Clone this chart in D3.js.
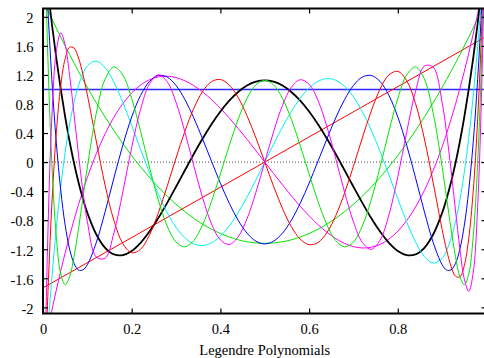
<!DOCTYPE html>
<html>
<head>
<meta charset="utf-8">
<script src="https://cdn.jsdelivr.net/npm/d3@7"></script>
<style>
  html, body { margin: 0; padding: 0; background: #fff; overflow: hidden; }
  svg { display: block; }
  text { font-family: "Liberation Serif", "Times New Roman", serif; font-size: 14.5px; fill: #000; }
</style>
</head>
<body>
<svg id="chart" width="490" height="358"></svg>
<script>
// sample positions on [0, 1], denser near both ends where the curves get steep
const xs = [0, 0.01, 0.02, 0.03, 0.04, 0.05, 0.06, 0.07, 0.08, 0.09, 0.10,
  0.12, 0.14, 0.16, 0.18, 0.20, 0.22, 0.24, 0.26, 0.28, 0.30, 0.32, 0.34, 0.36, 0.38, 0.40,
  0.42, 0.44, 0.46, 0.48, 0.50, 0.52, 0.54, 0.56, 0.58, 0.60, 0.62, 0.64, 0.66, 0.68, 0.70,
  0.72, 0.74, 0.76, 0.78, 0.80, 0.82, 0.84, 0.86, 0.88,
  0.90, 0.91, 0.92, 0.93, 0.94, 0.95, 0.96, 0.97, 0.98, 0.99, 1.00];

// degree 0 and 1 are straight, two points are enough
const xsLine = [0, 1];
const legendre0 = [1, 1];
const legendre1 = [-1.732, 1.732];

const legendre2 = [2.236, 2.103, 1.973, 1.846, 1.721, 1.599, 1.479, 1.363, 1.249, 1.137, 1.029,
  0.819, 0.621, 0.433, 0.256, 0.089, -0.066, -0.211, -0.345, -0.469, -0.581, -0.683, -0.775, -0.855, -0.925, -0.984,
  -1.032, -1.070, -1.097, -1.113, -1.118, -1.113, -1.097, -1.070, -1.032, -0.984, -0.925, -0.855, -0.775, -0.683, -0.581,
  -0.469, -0.345, -0.211, -0.066, 0.089, 0.256, 0.433, 0.621, 0.819,
  1.029, 1.137, 1.249, 1.363, 1.479, 1.599, 1.721, 1.846, 1.973, 2.103, 2.236];

const legendre3 = [-2.646, -2.336, -2.042, -1.763, -1.499, -1.250, -1.015, -0.794, -0.587, -0.393, -0.212,
  0.113, 0.389, 0.619, 0.806, 0.952, 1.061, 1.134, 1.173, 1.183, 1.164, 1.120, 1.053, 0.966, 0.861, 0.741,
  0.608, 0.465, 0.314, 0.158, 0, -0.158, -0.314, -0.465, -0.608, -0.741, -0.861, -0.966, -1.053, -1.120, -1.164,
  -1.183, -1.173, -1.134, -1.061, -0.952, -0.806, -0.619, -0.389, -0.113,
  0.212, 0.393, 0.587, 0.794, 1.015, 1.250, 1.499, 1.763, 2.042, 2.336, 2.646];

const legendre4 = [3, 2.427, 1.905, 1.432, 1.006, 0.624, 0.284, -0.016, -0.278, -0.505, -0.699,
  -0.994, -1.180, -1.271, -1.281, -1.224, -1.112, -0.957, -0.770, -0.561, -0.339, -0.113, 0.111, 0.324, 0.521, 0.696,
  0.846, 0.966, 1.054, 1.107, 1.125, 1.107, 1.054, 0.966, 0.846, 0.696, 0.521, 0.324, 0.111, -0.113, -0.339,
  -0.561, -0.770, -0.957, -1.112, -1.224, -1.281, -1.271, -1.180, -0.994,
  -0.699, -0.505, -0.278, -0.016, 0.284, 0.624, 1.006, 1.432, 1.905, 2.427, 3];

const legendre5 = [-3.317, -2.389, -1.591, -0.910, -0.337, 0.136, 0.521, 0.824, 1.054, 1.218, 1.325,
  1.391, 1.301, 1.099, 0.823, 0.506, 0.176, -0.146, -0.441, -0.695, -0.898, -1.043, -1.127, -1.149, -1.112, -1.020,
  -0.879, -0.697, -0.483, -0.247, 0, 0.247, 0.483, 0.697, 0.879, 1.020, 1.112, 1.149, 1.127, 1.043, 0.898,
  0.695, 0.441, 0.146, -0.176, -0.506, -0.823, -1.099, -1.301, -1.391,
  -1.325, -1.218, -1.054, -0.824, -0.521, -0.136, 0.337, 0.910, 1.591, 2.389, 3.317];

const legendre6 = [3.606, 2.237, 1.136, 0.271, -0.388, -0.870, -1.198, -1.396, -1.485, -1.485, -1.413,
  -1.111, -0.685, -0.217, 0.233, 0.621, 0.918, 1.110, 1.193, 1.171, 1.055, 0.861, 0.608, 0.317, 0.011, -0.291,
  -0.567, -0.801, -0.978, -1.089, -1.127, -1.089, -0.978, -0.801, -0.567, -0.291, 0.011, 0.317, 0.608, 0.861, 1.055,
  1.171, 1.193, 1.110, 0.918, 0.621, 0.233, -0.217, -0.685, -1.111,
  -1.413, -1.485, -1.485, -1.396, -1.198, -0.870, -0.388, 0.271, 1.136, 2.237, 3.606];

const legendre7 = [-3.873, -1.981, -0.583, 0.403, 1.051, 1.425, 1.581, 1.570, 1.434, 1.210, 0.928,
  0.292, -0.318, -0.806, -1.121, -1.249, -1.201, -1.005, -0.701, -0.333, 0.057, 0.425, 0.740, 0.973, 1.108, 1.137,
  1.061, 0.889, 0.639, 0.334, 0, -0.334, -0.639, -0.889, -1.061, -1.137, -1.108, -0.973, -0.740, -0.425, -0.057,
  0.333, 0.701, 1.005, 1.201, 1.249, 1.121, 0.806, 0.318, -0.292,
  -0.928, -1.210, -1.434, -1.570, -1.581, -1.425, -1.051, -0.403, 0.583, 1.981, 3.873];

const legendre8 = [4.123, 1.637, -0.019, -1.027, -1.541, -1.689, -1.579, -1.299, -0.919, -0.494, -0.069,
  0.668, 1.143, 1.311, 1.199, 0.875, 0.424, -0.067, -0.522, -0.880, -1.101, -1.167, -1.081, -0.861, -0.541, -0.163,
  0.228, 0.588, 0.877, 1.063, 1.127, 1.063, 0.877, 0.588, 0.228, -0.163, -0.541, -0.861, -1.081, -1.167, -1.101,
  -0.880, -0.522, -0.067, 0.424, 0.875, 1.199, 1.311, 1.143, 0.668,
  -0.069, -0.494, -0.919, -1.299, -1.579, -1.689, -1.541, -1.027, -0.019, 1.637, 4.123];

const legendre9 = [-4.359, -1.222, 0.620, 1.525, 1.780, 1.611, 1.193, 0.660, 0.106, -0.401, -0.819,
  -1.307, -1.324, -0.974, -0.411, 0.201, 0.727, 1.076, 1.202, 1.106, 0.823, 0.413, -0.050, -0.492, -0.849, -1.072,
  -1.134, -1.030, -0.780, -0.419, 0, 0.419, 0.780, 1.030, 1.134, 1.072, 0.849, 0.492, 0.050, -0.413, -0.823,
  -1.106, -1.202, -1.076, -0.727, -0.201, 0.411, 0.974, 1.324, 1.307,
  0.819, 0.401, -0.106, -0.660, -1.193, -1.611, -1.780, -1.525, -0.620, 1.222, 4.359];

// the tick at 1 sits past the right edge of the picture, so only its mark is drawn
const xTicks = [0, 0.2, 0.4, 0.6, 0.8];
const yTicks = [-2, -1.6, -1.2, -0.8, -0.4, 0, 0.4, 0.8, 1.2, 1.6, 2];
const xLabel = "Legendre Polynomials";

const series = [
  {x: xsLine, y: legendre0, color: "#2a2aff", width: 1.6},
  {x: xsLine, y: legendre1, color: "#ff0000", width: 1},
  {x: xs, y: legendre2, color: "#00e600", width: 1},
  {x: xs, y: legendre3, color: "#ff00ff", width: 1},
  {x: xs, y: legendre4, color: "#000000", width: 1.8},
  {x: xs, y: legendre5, color: "#00f0f0", width: 1},
  {x: xs, y: legendre6, color: "#0000ff", width: 1},
  {x: xs, y: legendre7, color: "#ff0000", width: 1},
  {x: xs, y: legendre8, color: "#00e600", width: 1},
  {x: xs, y: legendre9, color: "#ff00ff", width: 1}
];

const svg = d3.select("#chart");
const LEFT = 43, RIGHT = 486.5, TOP = 8.5, BOTTOM = 313.5;

const xScale = d3.scaleLinear().domain([0, 1]).range([LEFT, RIGHT]);
const yScale = d3.scaleLinear().domain([-2.085, 2.115]).range([BOTTOM, TOP]);

svg.append("defs").append("clipPath").attr("id", "plot-clip")
  .append("rect")
  .attr("x", LEFT).attr("y", TOP)
  .attr("width", RIGHT - LEFT).attr("height", BOTTOM - TOP);

// dotted zero axis
svg.append("line")
  .attr("x1", LEFT).attr("x2", RIGHT)
  .attr("y1", yScale(0)).attr("y2", yScale(0))
  .attr("stroke", "#444")
  .attr("stroke-width", 1)
  .attr("stroke-dasharray", "1,2");

const lineGen = d3.line()
  .x(d => xScale(d[0]))
  .y(d => yScale(d[1]))
  .curve(d3.curveCatmullRom.alpha(0.5));

const curves = svg.append("g").attr("clip-path", "url(#plot-clip)");
series.forEach(s => {
  curves.append("path")
    .attr("d", lineGen(s.x.map((v, i) => [v, s.y[i]])))
    .attr("fill", "none")
    .attr("stroke", s.color)
    .attr("stroke-width", s.width);
});

// axes: ticks point inward on all four sides, labels only left and bottom
const fmt = d => String(d);
const styleAxis = g => {
  g.select(".domain").remove();
  g.selectAll(".tick line").attr("stroke", "#000").attr("stroke-width", 1.2);
  g.selectAll("text").attr("font-family", null).attr("font-size", null).attr("fill", "#000");
};

svg.append("g")
  .attr("transform", "translate(0," + BOTTOM + ")")
  .call(d3.axisBottom(xScale).tickValues(xTicks).tickFormat(fmt).tickSizeInner(-5).tickSizeOuter(0).tickPadding(10.5))
  .call(styleAxis);

svg.append("g")
  .attr("transform", "translate(0," + TOP + ")")
  .call(d3.axisTop(xScale).tickValues(xTicks).tickFormat("").tickSizeInner(-5).tickSizeOuter(0))
  .call(styleAxis);

svg.append("g")
  .attr("transform", "translate(" + LEFT + ",0)")
  .call(d3.axisLeft(yScale).tickValues(yTicks).tickFormat(fmt).tickSizeInner(-5).tickSizeOuter(0).tickPadding(9.5))
  .call(styleAxis)
  .selectAll("text").attr("dy", "0.4em");

svg.append("g")
  .attr("transform", "translate(" + RIGHT + ",0)")
  .call(d3.axisRight(yScale).tickValues(yTicks).tickFormat("").tickSizeInner(-5).tickSizeOuter(0))
  .call(styleAxis);

// frame
svg.append("rect")
  .attr("x", LEFT).attr("y", TOP)
  .attr("width", RIGHT - LEFT).attr("height", BOTTOM - TOP)
  .attr("fill", "none")
  .attr("stroke", "#000")
  .attr("stroke-width", 2);

svg.append("text")
  .attr("text-anchor", "middle")
  .attr("x", (LEFT + RIGHT) / 2)
  .attr("y", 355)
  .text(xLabel);
</script>
</body>
</html>
